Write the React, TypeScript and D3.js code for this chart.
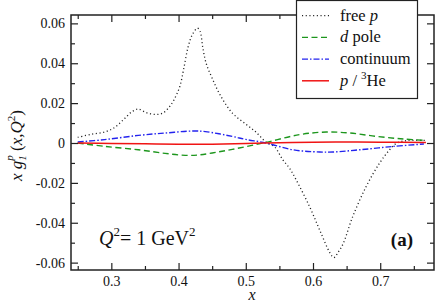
import { useEffect, useRef } from 'react';
import * as d3 from 'd3';

// free p (dotted)
const freeX = [0.25, 0.27, 0.29, 0.305, 0.318, 0.33, 0.34, 0.352, 0.366, 0.377, 0.386, 0.393, 0.402, 0.408, 0.414, 0.42, 0.428, 0.432, 0.436, 0.441, 0.45, 0.462, 0.48, 0.5, 0.515, 0.53, 0.543, 0.555, 0.565, 0.575, 0.595, 0.61, 0.625, 0.631, 0.638, 0.645, 0.659, 0.679, 0.699, 0.714, 0.725, 0.74, 0.768];
const freeY = [0.0028, 0.0044, 0.0055, 0.0078, 0.0117, 0.0155, 0.017, 0.0152, 0.0143, 0.0151, 0.018, 0.0215, 0.0285, 0.0378, 0.0479, 0.054, 0.0576, 0.056, 0.048, 0.04, 0.0325, 0.024, 0.015, 0.0095, 0.0055, 0.0005, -0.002, -0.0084, -0.0126, -0.0185, -0.032, -0.0437, -0.055, -0.0575, -0.0545, -0.0504, -0.037, -0.0219, -0.0101, -0.0034, 0.0, 0.0012, 0.0013];

// d pole (dashed)
const poleX = [0.25, 0.29, 0.34, 0.38, 0.41, 0.43, 0.45, 0.48, 0.53, 0.58, 0.62, 0.655, 0.695, 0.735, 0.768];
const poleY = [0.0, -0.0017, -0.0034, -0.0052, -0.0062, -0.006, -0.005, -0.0032, 0.0003, 0.0042, 0.0055, 0.005, 0.0033, 0.002, 0.0013];

// continuum (dash-dot)
const contX = [0.25, 0.29, 0.34, 0.38, 0.42, 0.44, 0.48, 0.5, 0.53, 0.57, 0.61, 0.63, 0.67, 0.72, 0.765];
const contY = [0.0005, 0.0017, 0.0038, 0.005, 0.006, 0.0057, 0.0033, 0.0018, 0.0, -0.0034, -0.0045, -0.0045, -0.0034, -0.0017, -0.0005];

// p / 3He (solid)
const heX = [0.25, 0.3, 0.35, 0.4, 0.45, 0.5, 0.53, 0.6, 0.65, 0.7, 0.768];
const heY = [0.0, -0.0002, -0.0004, -0.0006, -0.0006, -0.0003, 0.0, 0.0004, 0.0005, 0.0004, 0.0002];

const xTicks = [0.3, 0.4, 0.5, 0.6, 0.7];
const xMinor = [0.25, 0.35, 0.45, 0.55, 0.65, 0.75];
const yTicks = [-0.06, -0.04, -0.02, 0, 0.02, 0.04, 0.06];
const yMinor = [-0.05, -0.03, -0.01, 0.01, 0.03, 0.05];

const FONT = '"Liberation Serif", "Times New Roman", serif';

const App = () => {
  const svgRef = useRef<SVGSVGElement>(null);

  useEffect(() => {
    if (!svgRef.current) return;
    const svg = d3.select(svgRef.current);
    svg.selectAll('*').remove();

    const left = 71, right = 434, top = 15, bottom = 270;
    const x = d3.scaleLinear().domain([0.24, 0.78]).range([left, right]);
    const y = d3.scaleLinear().domain([-0.0637, 0.0642]).range([bottom, top]);
    const w = right - left;
    const h = bottom - top;

    const series = [
      { xs: freeX, ys: freeY, color: '#222', width: 1.3, dash: '1.1 2.6' },
      { xs: poleX, ys: poleY, color: '#1d961d', width: 1.4, dash: '6 3.5' },
      { xs: contX, ys: contY, color: '#2323ee', width: 1.4, dash: '6 2 1.5 2' },
      { xs: heX, ys: heY, color: '#f01414', width: 1.5, dash: null },
    ];

    const line = d3.line<[number, number]>()
      .x(d => x(d[0]))
      .y(d => y(d[1]))
      .curve(d3.curveCatmullRom.alpha(0.5));

    const curves = svg.append('g');
    series.forEach(s => {
      curves.append('path')
        .attr('d', line(s.xs.map((v, i) => [v, s.ys[i]] as [number, number])))
        .attr('fill', 'none')
        .attr('stroke', s.color)
        .attr('stroke-width', s.width)
        .attr('stroke-dasharray', s.dash);
    });

    // axes, ticks pointing inward on all four sides
    const styleAxis = (g: d3.Selection<SVGGElement, unknown, null, undefined>) => {
      g.attr('font-family', FONT);
      g.select('.domain').remove();
      g.selectAll('.tick line').attr('stroke', '#222').attr('stroke-width', 1.2);
      g.selectAll('.tick text')
        .style('font-family', FONT)
        .style('font-size', '14px')
        .style('fill', '#111');
    };
    const fmtY = (d: d3.NumberValue) => (+d === 0 ? '0' : d3.format('.2f')(+d).replace('−', '-'));

    svg.append('g')
      .attr('transform', `translate(${left},0)`)
      .call(d3.axisLeft(y).tickValues(yTicks).tickSize(-7).tickPadding(6).tickFormat(fmtY))
      .call(styleAxis);
    svg.append('g')
      .attr('transform', `translate(${left},0)`)
      .call(d3.axisLeft(y).tickValues(yMinor).tickSize(-4).tickFormat(() => ''))
      .call(styleAxis);
    svg.append('g')
      .attr('transform', `translate(${right},0)`)
      .call(d3.axisRight(y).tickValues(yTicks).tickSize(-7).tickFormat(() => ''))
      .call(styleAxis);
    svg.append('g')
      .attr('transform', `translate(${right},0)`)
      .call(d3.axisRight(y).tickValues(yMinor).tickSize(-4).tickFormat(() => ''))
      .call(styleAxis);

    svg.append('g')
      .attr('transform', `translate(0,${bottom})`)
      .call(d3.axisBottom(x).tickValues(xTicks).tickSize(-7).tickPadding(6).tickFormat(d3.format('.1f')))
      .call(styleAxis);
    svg.append('g')
      .attr('transform', `translate(0,${bottom})`)
      .call(d3.axisBottom(x).tickValues(xMinor).tickSize(-4).tickFormat(() => ''))
      .call(styleAxis);
    svg.append('g')
      .attr('transform', `translate(0,${top})`)
      .call(d3.axisTop(x).tickValues(xTicks).tickSize(-7).tickFormat(() => ''))
      .call(styleAxis);
    svg.append('g')
      .attr('transform', `translate(0,${top})`)
      .call(d3.axisTop(x).tickValues(xMinor).tickSize(-4).tickFormat(() => ''))
      .call(styleAxis);

    // frame
    svg.append('rect')
      .attr('x', left).attr('y', top)
      .attr('width', w).attr('height', h)
      .attr('fill', 'none')
      .attr('stroke', '#222')
      .attr('stroke-width', 1.5);

    // legend
    const legend = svg.append('g');
    legend.append('rect')
      .attr('x', 296.5).attr('y', 0.5)
      .attr('width', 121).attr('height', 98)
      .attr('fill', '#fff')
      .attr('stroke', '#222')
      .attr('stroke-width', 1.2);

    const entries = [
      { parts: [['free ', 'normal'], ['p', 'italic']] },
      { parts: [['d', 'italic'], [' pole', 'normal']] },
      { parts: [['continuum', 'normal']] },
      { parts: [['p', 'italic'], [' / ', 'normal'], ['3', 'sup'], ['He', 'normal']] },
    ];
    entries.forEach((e, i) => {
      const ly = 15.7 + i * 21.7;
      const s = series[i];
      legend.append('line')
        .attr('x1', 302).attr('x2', 329)
        .attr('y1', ly).attr('y2', ly)
        .attr('stroke', s.color)
        .attr('stroke-width', s.width)
        .attr('stroke-dasharray', s.dash);
      const t = legend.append('text')
        .attr('x', 340).attr('y', ly + 5)
        .style('font-family', FONT)
        .style('font-size', '16.5px')
        .style('fill', '#111');
      let shifted = false;
      e.parts.forEach(([txt, kind]) => {
        const span = t.append('tspan').text(txt);
        if (kind === 'italic') span.style('font-style', 'italic');
        if (kind === 'sup') {
          span.style('font-size', '11px').attr('dy', -7);
          shifted = true;
        } else if (shifted) {
          span.attr('dy', 7);
          shifted = false;
        }
      });
    });

    // y label
    const yl = svg.append('text')
      .attr('transform', 'translate(22,181) rotate(-90)')
      .style('font-family', FONT)
      .style('font-size', '17px')
      .style('fill', '#111');
    yl.append('tspan').text('x g').style('font-style', 'italic');
    yl.append('tspan').text('1').style('font-style', 'italic').style('font-size', '11px').attr('dy', 4);
    yl.append('tspan').text('p').style('font-style', 'italic').style('font-size', '11px').attr('dx', -5.5).attr('dy', -13);
    yl.append('tspan').text(' (').attr('dy', 9);
    yl.append('tspan').text('x,Q').style('font-style', 'italic');
    yl.append('tspan').text('2').style('font-size', '11px').attr('dy', -7);
    yl.append('tspan').text(')').attr('dy', 7);

    // x label
    svg.append('text')
      .attr('x', 252).attr('y', 300)
      .attr('text-anchor', 'middle')
      .style('font-family', FONT)
      .style('font-size', '16px')
      .style('font-style', 'italic')
      .style('fill', '#111')
      .text('x');

    // Q^2 annotation
    const q = svg.append('text')
      .attr('x', 99).attr('y', 245)
      .style('font-family', FONT)
      .style('font-size', '20px')
      .style('fill', '#111');
    q.append('tspan').text('Q').style('font-style', 'italic');
    q.append('tspan').text('2').style('font-size', '13px').attr('dy', -9);
    q.append('tspan').text('= 1 GeV').attr('dy', 9);
    q.append('tspan').text('2').style('font-size', '13px').attr('dy', -9);

    svg.append('text')
      .attr('x', 413).attr('y', 246)
      .attr('text-anchor', 'end')
      .style('font-family', FONT)
      .style('font-size', '19px')
      .style('font-weight', 'bold')
      .style('fill', '#111')
      .text('(a)');
  }, []);

  return (
    <svg
      ref={svgRef}
      width={436}
      height={304}
      style={{ position: 'absolute', left: 0, top: 0, background: '#fff' }}
    />
  );
};

export default App;
